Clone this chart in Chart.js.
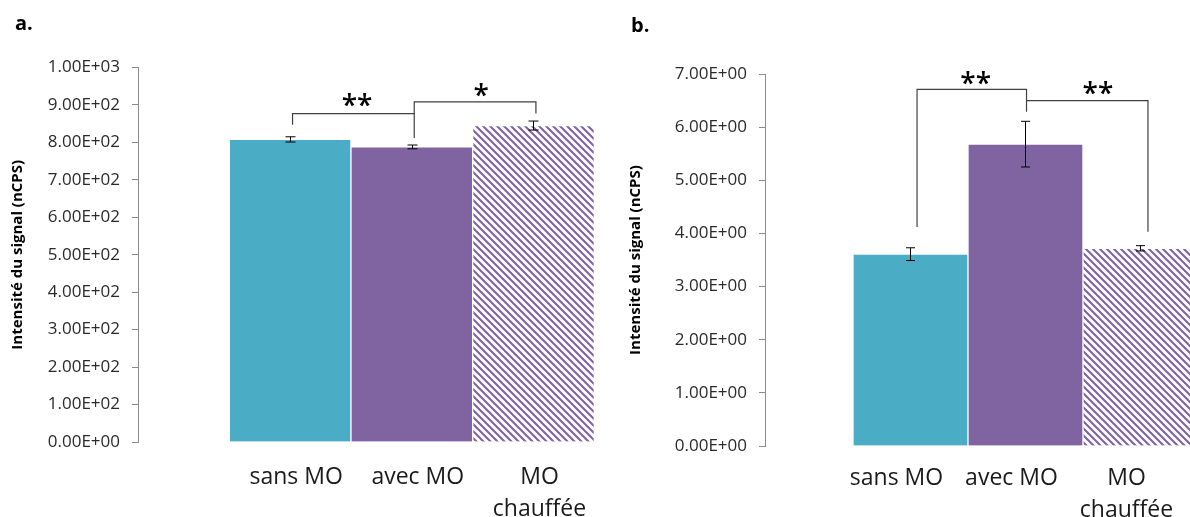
<!DOCTYPE html>
<html><head><meta charset="utf-8">
<script src="https://cdn.jsdelivr.net/npm/chart.js@4/dist/chart.umd.min.js"></script>
<style>
html,body{margin:0;padding:0;background:#fff;overflow:hidden;width:1190px;height:517px;position:relative;}
#wa{position:absolute;left:0;top:0;width:620px;height:517px;}
#wb{position:absolute;left:620px;top:0;width:600px;height:517px;}
.lab{position:absolute;font:bold 20px "Open Sans";color:#000;line-height:24px;}
</style></head><body>
<div id="wa"><canvas id="ca"></canvas></div>
<div id="wb"><canvas id="cb"></canvas></div>
<div class="lab" style="left:15px;top:11px">a.</div>
<div class="lab" style="left:631px;top:13px">b.</div>
<script>
// ---- data ----
const categories = ['sans MO', 'avec MO', ['MO', 'chauffée']];
const valuesA = [808, 788, 845];
const errorsA = [7, 5, 12];
const valuesB = [3.61, 5.68, 3.72];
const errorsB = [0.12, 0.43, 0.05];
const yTicksA = ['0.00E+00','1.00E+02','2.00E+02','3.00E+02','4.00E+02','5.00E+02','6.00E+02','7.00E+02','8.00E+02','9.00E+02','1.00E+03'];
const yTicksB = ['0.00E+00','1.00E+00','2.00E+00','3.00E+00','4.00E+00','5.00E+00','6.00E+00','7.00E+00'];
// significance brackets (data units)
const bracketsA = [
  {from: 0.02, to: 1.02, top: 877, leftEnd: 847, rightEnd: 877},
  {from: 1.02, to: 2.02, top: 908, leftEnd: 812, rightEnd: 877}
];
const starsA = [{x: 0.55, y: 914, text: '**'}, {x: 1.57, y: 940, text: '*'}];
const bracketsB = [
  {from: 0.057, to: 1.009, top: 6.71, leftEnd: 4.12, rightEnd: 6.29},
  {from: 1.009, to: 2.065, top: 6.50, leftEnd: 6.50, rightEnd: 4.03}
];
const starsB = [{x: 0.567, y: 6.93, text: '**'}, {x: 1.63, y: 6.73, text: '**'}];

const TEAL = '#4BACC6', PURPLE = '#8064A2';

function hatchPattern() {
  const s = 7;
  const c = document.createElement('canvas');
  c.width = s; c.height = s;
  const g = c.getContext('2d');
  g.fillStyle = '#fff'; g.fillRect(0, 0, s, s);
  g.strokeStyle = PURPLE; g.lineWidth = 2.1;
  g.beginPath();
  for (const o of [-s, 0, s]) { g.moveTo(o - 1, -1); g.lineTo(o + s + 1, s + 1); }
  g.stroke();
  return g.createPattern(c, 'repeat');
}

function makeChart(id, values, errors, yTicks, yMax, yStep, brackets, stars, o) {
  const annot = {
    id: 'annot',
    afterDatasetsDraw(chart) {
      const ctx = chart.ctx, xs = chart.scales.x, ys = chart.scales.y;
      const meta = chart.getDatasetMeta(0);
      ctx.save();
      // error bars
      ctx.strokeStyle = '#000'; ctx.lineWidth = 1;
      meta.data.forEach((el, i) => {
        const x = Math.round(el.x) + 0.5;
        const t = ys.getPixelForValue(values[i] + errors[i]);
        const b = ys.getPixelForValue(values[i] - errors[i]);
        ctx.beginPath();
        ctx.moveTo(x, t); ctx.lineTo(x, b);
        ctx.moveTo(x - o.cap, t); ctx.lineTo(x + o.cap, t);
        ctx.moveTo(x - o.cap, b); ctx.lineTo(x + o.cap, b);
        ctx.stroke();
      });
      // brackets
      ctx.strokeStyle = '#404040'; ctx.lineWidth = 1.2;
      brackets.forEach(br => {
        const x1 = xs.getPixelForValue(br.from), x2 = xs.getPixelForValue(br.to);
        const yt = ys.getPixelForValue(br.top);
        ctx.beginPath();
        ctx.moveTo(x1, ys.getPixelForValue(br.leftEnd));
        ctx.lineTo(x1, yt); ctx.lineTo(x2, yt);
        ctx.lineTo(x2, ys.getPixelForValue(br.rightEnd));
        ctx.stroke();
      });
      ctx.fillStyle = '#000';
      ctx.font = '600 28px "Open Sans"';
      ctx.textAlign = 'center'; ctx.textBaseline = 'middle';
      stars.forEach(s => {
        ctx.fillText(s.text, xs.getPixelForValue(s.x), ys.getPixelForValue(s.y) + 7);
      });
      ctx.restore();
    }
  };
  const canvas = document.getElementById(id);
  return new Chart(canvas, {
    type: 'bar',
    data: {
      datasets: [{
        data: values.map((v, i) => ({x: i, y: v})),
        backgroundColor: [TEAL, PURPLE, hatchPattern()],
        borderColor: '#ffffff', borderWidth: 1,
        barPercentage: 1, categoryPercentage: 1
      }]
    },
    options: {
      responsive: true, maintainAspectRatio: false, animation: false,
      layout: {padding: {top: o.top, right: o.right, left: 0, bottom: 0}},
      plugins: {legend: {display: false}, tooltip: {enabled: false}},
      scales: {
        x: {
          type: 'linear', min: o.xmin, max: o.xmax, offset: false,
          afterBuildTicks: s => { s.ticks = categories.map((c, i) => ({value: i})); },
          afterFit: s => { s.height = o.xh; },
          grid: {display: false, drawTicks: false}, border: {display: false},
          ticks: {padding: o.xpad, maxRotation: 0, autoSkip: false, labelOffset: o.lblOff,
            callback: v => categories[v],
            font: {family: 'Open Sans', size: 23, lineHeight: 1.39}, color: '#1a1a1a'}
        },
        y: {
          min: 0, max: yMax,
          afterFit: s => { s.width = o.yw; },
          ticks: {stepSize: yStep, padding: 12, callback: (v, i) => yTicks[i],
            font: {family: 'Open Sans', size: 17}, color: '#2a2a2a'},
          grid: {drawOnChartArea: false, tickLength: 6, color: '#8c8c8c'},
          border: {color: '#8c8c8c'},
          title: {display: true, text: 'Intensité du signal (nCPS)', color: '#000',
            font: {family: 'Open Sans', size: 15, weight: 'bold'}, padding: {top: o.tpad, bottom: 0}}
        }
      }
    },
    plugins: [annot]
  });
}

makeChart('ca', valuesA, errorsA, yTicksA, 1000, 100, bracketsA, starsA,
  {top: 67.5, right: 13.5, xh: 75, xpad: 19, yw: 138, tpad: 9, xmin: -1.25, xmax: 2.6, cap: 5, lblOff: 6});
makeChart('cb', valuesB, errorsB, yTicksB, 7, 1, bracketsB, starsB,
  {top: 74, right: 10.5, xh: 71, xpad: 16, yw: 145, tpad: 7, xmin: -1.265, xmax: 2.6, cap: 4.5, lblOff: -14});
</script>
</body></html>
